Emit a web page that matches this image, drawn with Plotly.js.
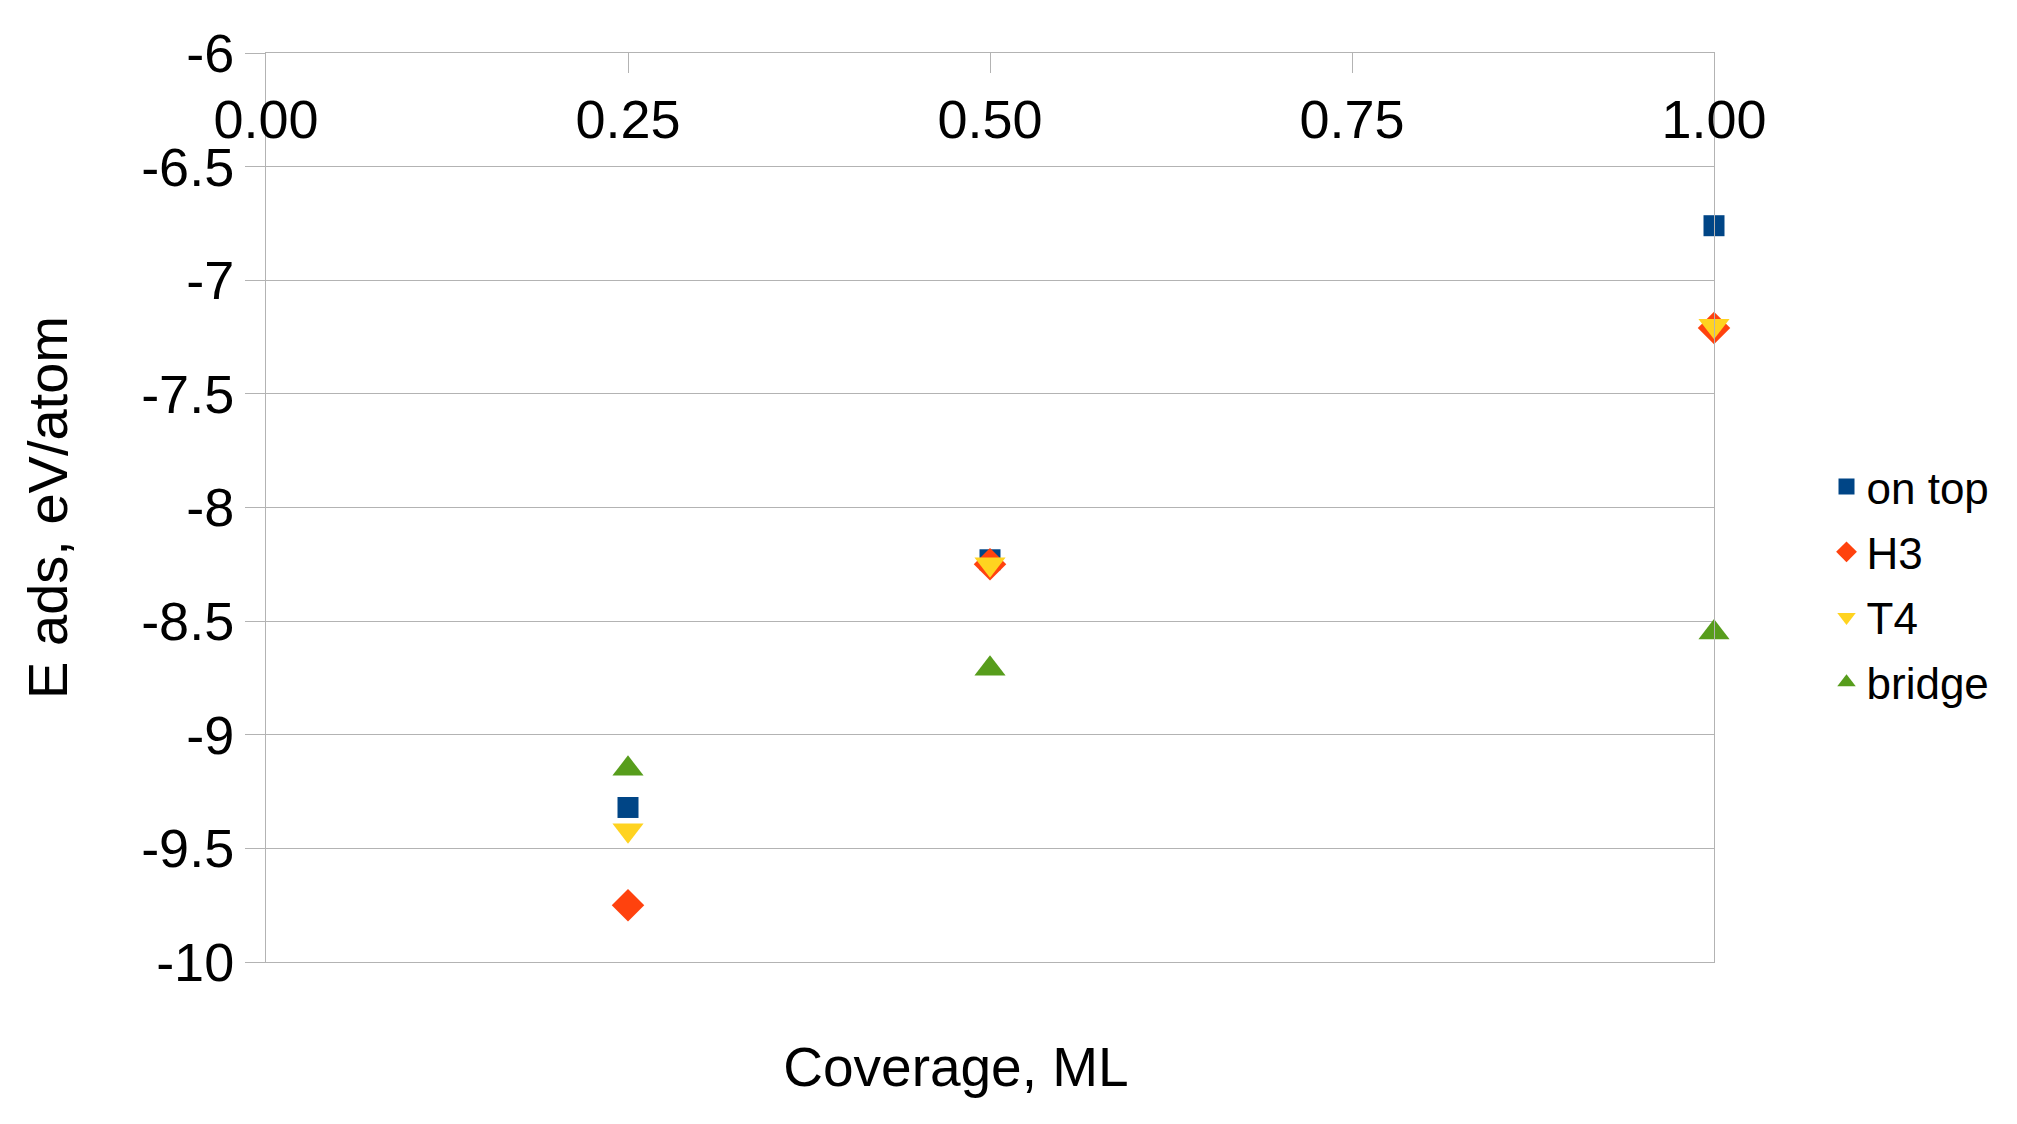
<!DOCTYPE html>
<html>
<head>
<meta charset="utf-8">
<script src="https://cdn.plot.ly/plotly-3.0.1.min.js"></script>
<style>
html,body{margin:0;padding:0;background:#fff;}
#chart{width:2017px;height:1124px;}
</style>
</head>
<body>
<div id="chart"></div>
<script>
// Data
const coverage = [0.25, 0.5, 1.0];
const seriesNames = ['on top', 'H3', 'T4', 'bridge'];
const onTop  = [-9.32, -8.23, -6.76];
const h3     = [-9.75, -8.25, -7.21];
const t4     = [-9.42, -8.25, -7.20];
const bridge = [-9.15, -8.71, -8.55];
const xTickVals = [0, 0.25, 0.5, 0.75, 1.0];
const xTickText = ['0.00', '0.25', '0.50', '0.75', '1.00'];
const yTickVals = [-10, -9.5, -9, -8.5, -8, -7.5, -7, -6.5, -6];
const yTickText = ['-10', '-9.5', '-9', '-8.5', '-8', '-7.5', '-7', '-6.5', '-6'];

const FONT = '"Liberation Sans", Arial, sans-serif';
const GRID = '#b3b3b3';

const styles = [
  {symbol: 'square', size: 21, color: '#004586'},
  {symbol: 'diamond', size: 25, color: '#ff420e'},
  {symbol: 'triangle-down', size: 27, color: '#ffd320'},
  {symbol: 'triangle-up', size: 27, color: '#579d1c'}
];
const ys = [onTop, h3, t4, bridge];

const traces = ys.map((y, i) => ({
  type: 'scatter',
  mode: 'markers',
  name: seriesNames[i],
  legendgroup: 'g' + i,
  x: coverage,
  y: y,
  xaxis: 'x',
  yaxis: 'y',
  cliponaxis: false,
  marker: {symbol: styles[i].symbol, size: styles[i].size, color: styles[i].color, line: {width: 0}},
  hoverinfo: 'x+y+name'
}));

// invisible carrier so the bottom (title) axis exists
traces.unshift({
  type: 'scatter',
  mode: 'markers',
  x: coverage,
  y: onTop,
  xaxis: 'x2',
  yaxis: 'y',
  marker: {opacity: 0, size: 1},
  showlegend: false,
  hoverinfo: 'skip'
});

const layout = {
  width: 2017,
  height: 1124,
  paper_bgcolor: '#ffffff',
  plot_bgcolor: 'rgba(0,0,0,0)',
  font: {family: FONT, color: '#000000', size: 54},
  margin: {l: 266, r: 303, t: 53, b: 162, pad: 0},
  showlegend: true,
  legend: {
    x: 1.0777, xanchor: 'left',
    y: 0.4153, yanchor: 'middle',
    font: {family: FONT, size: 44, color: '#000'},
    tracegroupgap: 5,
    bgcolor: 'rgba(0,0,0,0)',
    borderwidth: 0
  },
  xaxis: {
    domain: [0, 1],
    side: 'top',
    range: [0, 1],
    tickvals: xTickVals,
    ticktext: xTickText,
    ticks: 'inside',
    ticklen: 20,
    tickcolor: GRID,
    tickwidth: 1,
    ticklabelposition: 'inside',
    ticklabeloverflow: 'allow',
    ticklabelstandoff: 35,
    tickfont: {family: FONT, size: 54, color: '#000'},
    showgrid: false,
    zeroline: false,
    showline: true,
    mirror: true,
    linecolor: GRID,
    linewidth: 1,
    automargin: false
  },
  xaxis2: {
    domain: [0, 0.953],
    anchor: 'y',
    side: 'bottom',
    range: [0, 1],
    showticklabels: false,
    ticks: '',
    showgrid: false,
    zeroline: false,
    showline: false,
    title: {text: 'Coverage, ML', font: {family: FONT, size: 55, color: '#000'}, standoff: 85},
    automargin: true
  },
  yaxis: {
    anchor: 'x',
    range: [-10, -6],
    tickvals: yTickVals,
    ticktext: yTickText,
    ticks: 'outside',
    ticklen: 20,
    tickcolor: GRID,
    tickwidth: 1,
    tickfont: {family: FONT, size: 54, color: '#000'},
    showgrid: true,
    gridcolor: GRID,
    gridwidth: 1,
    zeroline: false,
    showline: true,
    mirror: true,
    linecolor: GRID,
    linewidth: 1,
    title: {text: 'E ads, eV/atom', font: {family: FONT, size: 56, color: '#000'}, standoff: 55},
    automargin: true
  }
};

Plotly.newPlot('chart', traces, layout, {displayModeBar: false, responsive: false});
</script>
</body>
</html>
